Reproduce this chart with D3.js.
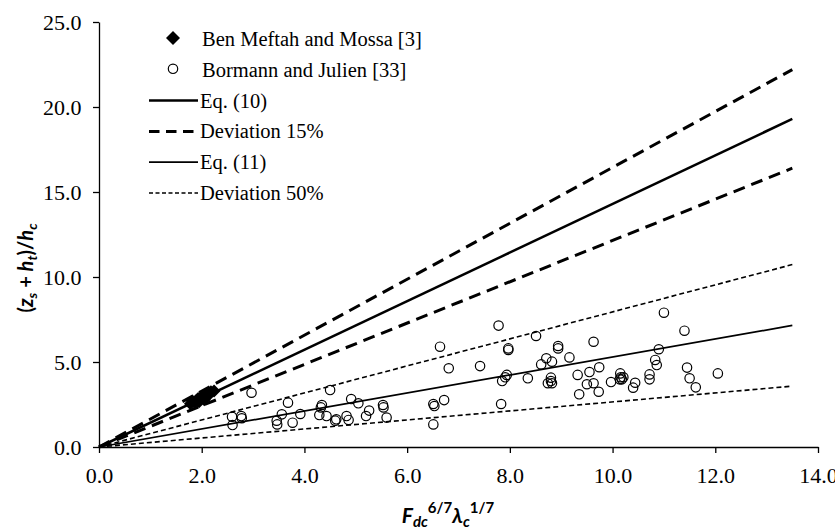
<!DOCTYPE html>
<html>
<head>
<meta charset="utf-8">
<script src="https://cdn.jsdelivr.net/npm/d3@7"></script>
<style>
  body { margin: 0; background: #fff; }
  .axis path, .axis line { stroke: #000; stroke-width: 1.3; }
  .title { font-family: Lato, "Noto Sans", sans-serif; font-weight: bold; fill: #000; }
</style>
</head>
<body>
<script>
//SVG dimension variables
var w = 835, h = 529;
var serif = "Liberation Serif";

// Ben Meftah and Mossa [3]
var benX = [1.78, 1.82, 1.86, 1.90, 1.93, 1.95, 1.97, 2.00, 2.03, 2.05, 2.06, 2.09, 2.12, 2.15, 2.18, 2.24];
var benY = [2.55, 2.70, 2.62, 2.75, 2.85, 2.66, 2.80, 2.95, 2.88, 2.78, 3.05, 3.00, 3.15, 3.10, 3.25, 3.30];

// Bormann and Julien [33]
var borX = [2.97, 2.59, 2.60, 2.77, 2.78, 3.68, 3.56, 3.46, 3.47, 3.77, 3.92, 4.50, 4.32, 4.34, 4.29, 4.43,
            4.60, 4.62, 4.82, 4.86, 6.64, 6.81, 4.91, 5.05, 5.26, 5.20, 5.53, 5.54, 5.60, 6.51, 6.53, 6.72,
            6.51, 7.78, 8.51, 7.97, 7.97, 7.42, 8.94, 8.94, 8.71, 8.82, 8.61, 9.16, 7.94, 7.91, 7.85, 8.35,
            8.80, 8.80, 8.74, 8.82, 7.83, 9.32, 9.35, 11.00, 11.40, 9.63, 10.90, 10.83, 10.86, 9.74, 9.55,
            9.50, 9.63, 9.73, 9.97, 10.15, 10.16, 10.18, 10.21, 10.14, 10.44, 10.40, 10.72, 10.72, 11.45,
            11.50, 11.62, 12.05];
var borY = [3.19, 1.78, 1.29, 1.82, 1.69, 2.61, 1.92, 1.55, 1.33, 1.43, 1.94, 3.35, 2.33, 2.47, 1.88, 1.82,
            1.55, 1.63, 1.82, 1.59, 5.90, 4.63, 2.82, 2.57, 2.14, 1.82, 2.47, 2.33, 1.73, 2.53, 2.41, 2.76,
            1.33, 7.14, 6.53, 5.80, 5.71, 4.76, 5.94, 5.80, 5.22, 5.02, 4.86, 5.27, 4.24, 4.10, 3.88, 4.04,
            4.08, 3.88, 3.75, 3.75, 2.53, 4.24, 3.10, 7.90, 6.84, 6.19, 5.75, 5.12, 4.82, 4.69, 4.41,
            3.69, 3.75, 3.25, 3.82, 4.33, 4.10, 3.98, 4.10, 3.98, 3.78, 3.49, 4.27, 3.98, 4.67,
            4.04, 3.51, 4.33];

// fitted lines (start and end points)
var lineX = [0, 13.5];
var eq10Y = [0, 19.30];
var dev15UpY = [0, 22.20];
var dev15LoY = [0, 16.40];
var eq11Y = [0, 7.15];
var dev50UpY = [0, 10.73];
var dev50LoY = [0, 3.58];

// tick labels
var xTicks = [0, 2, 4, 6, 8, 10, 12, 14];
var yTicks = [0, 5, 10, 15, 20, 25];

var container = d3.select("body")
    .append("svg")
    .attr("width", w)
    .attr("height", h);

// Create scale generators
var x = d3.scaleLinear()
    .range([99, 818])
    .domain([0, 14]);

var y = d3.scaleLinear()
    .range([447, 22])
    .domain([0, 25]);

var fmt = d3.format(".1f");

// Create axes
var xAxis = container.append("g")
    .attr("class", "axis")
    .attr("transform", "translate(0,447)")
    .call(d3.axisBottom(x).tickValues(xTicks).tickSize(6).tickSizeOuter(0).tickPadding(14).tickFormat(fmt));

var yAxis = container.append("g")
    .attr("class", "axis")
    .attr("transform", "translate(99,0)")
    .call(d3.axisLeft(y).tickValues(yTicks).tickSize(6).tickSizeOuter(0).tickPadding(11.5).tickFormat(fmt));

// axis generator sets its own font on the group, replace it
container.selectAll(".axis")
    .attr("font-family", serif)
    .attr("font-size", 22);
container.selectAll(".axis text")
    .attr("fill", "#000");

// line styles
var lines = [
    { ys: eq10Y, width: 2.5, dash: null },
    { ys: dev15UpY, width: 3, dash: "12,7" },
    { ys: dev15LoY, width: 3, dash: "12,7" },
    { ys: eq11Y, width: 1.7, dash: null },
    { ys: dev50UpY, width: 1.6, dash: "5,3" },
    { ys: dev50LoY, width: 1.6, dash: "5,3" }
];

var lineGen = d3.line()
    .x(function(d){ return x(d[0]); })
    .y(function(d){ return y(d[1]); });

container.selectAll(".fit")
    .data(lines)
    .enter()
    .append("path")
    .attr("class", "fit")
    .attr("d", function(d){
        return lineGen(lineX.map(function(v, i){ return [v, d.ys[i]]; }));
    })
    .attr("fill", "none")
    .attr("stroke", "#000")
    .attr("stroke-width", function(d){ return d.width; })
    .attr("stroke-dasharray", function(d){ return d.dash; });

// diamond path (square turned 45 degrees)
function diamond(r){
    return "M0," + (-r) + "L" + r + ",0L0," + r + "L" + (-r) + ",0Z";
}

// Bormann and Julien circles
container.selectAll(".bor")
    .data(borX)
    .enter()
    .append("circle")
    .attr("class", "bor")
    .attr("cx", function(d){ return x(d); })
    .attr("cy", function(d, i){ return y(borY[i]); })
    .attr("r", 4.7)
    .attr("fill", "none")
    .attr("stroke", "#000")
    .attr("stroke-width", 1.2);

// Ben Meftah diamonds
container.selectAll(".ben")
    .data(benX)
    .enter()
    .append("path")
    .attr("class", "ben")
    .attr("d", diamond(6.5))
    .attr("transform", function(d, i){ return "translate(" + x(d) + "," + y(benY[i]) + ")"; })
    .attr("fill", "#000");

// Legend
var legend = container.append("g").attr("class", "legend");
var legendItems = [
    { label: "Ben Meftah and Mossa [3]", type: "diamond" },
    { label: "Bormann and Julien [33]", type: "circle" },
    { label: "Eq. (10)", type: "line", width: 2.5, dash: null },
    { label: "Deviation 15%", type: "line", width: 3, dash: "10.5,6.5" },
    { label: "Eq. (11)", type: "line", width: 1.7, dash: null },
    { label: "Deviation 50%", type: "line", width: 1.6, dash: "4,2.5" }
];

legendItems.forEach(function(d, i){
    var base = 46 + i * 30.8;
    var g = legend.append("g");
    if (d.type === "diamond") {
        g.append("path").attr("d", diamond(7))
            .attr("transform", "translate(173," + (base - 8) + ")")
            .attr("fill", "#000");
    } else if (d.type === "circle") {
        g.append("circle").attr("cx", 173).attr("cy", base - 8).attr("r", 4.7)
            .attr("fill", "none").attr("stroke", "#000").attr("stroke-width", 1.2);
    } else {
        g.append("line").attr("x1", 149).attr("x2", 198)
            .attr("y1", base - 7).attr("y2", base - 7)
            .attr("stroke", "#000")
            .attr("stroke-width", d.width)
            .attr("stroke-dasharray", d.dash);
    }
    g.append("text")
        .attr("x", d.type === "line" ? 200 : 202)
        .attr("y", base)
        .attr("font-family", serif)
        .attr("font-size", 20.5)
        .attr("fill", "#000")
        .text(d.label);
});

// Y axis title
var yTitle = container.append("text")
    .attr("class", "title")
    .attr("transform", "translate(33,268) rotate(-90)")
    .attr("text-anchor", "middle")
    .style("font-size", "20px");
yTitle.append("tspan").text("(");
yTitle.append("tspan").style("font-style", "italic").text("z");
yTitle.append("tspan").style("font-style", "italic").style("font-size", "14px").attr("dy", 4).text("s");
yTitle.append("tspan").attr("dy", -4).text(" + ");
yTitle.append("tspan").style("font-style", "italic").text("h");
yTitle.append("tspan").style("font-style", "italic").style("font-size", "14px").attr("dy", 4).text("t");
yTitle.append("tspan").attr("dy", -4).text(")/");
yTitle.append("tspan").style("font-style", "italic").text("h");
yTitle.append("tspan").style("font-style", "italic").style("font-size", "14px").attr("dy", 4).text("c");

// X axis title
var xTitle = container.append("text")
    .attr("class", "title")
    .attr("x", 448)
    .attr("y", 523)
    .attr("text-anchor", "middle")
    .style("font-size", "21px");
xTitle.append("tspan").style("font-style", "italic").text("F");
xTitle.append("tspan").style("font-style", "italic").style("font-size", "15px").attr("dy", 4).text("dc");
xTitle.append("tspan").style("font-size", "15px").attr("dy", -14).text("6/7");
xTitle.append("tspan").style("font-style", "italic").attr("dy", 10).text("λ");
xTitle.append("tspan").style("font-style", "italic").style("font-size", "15px").attr("dy", 4).text("c");
xTitle.append("tspan").style("font-size", "15px").attr("dy", -14).text("1/7");
</script>
</body>
</html>
